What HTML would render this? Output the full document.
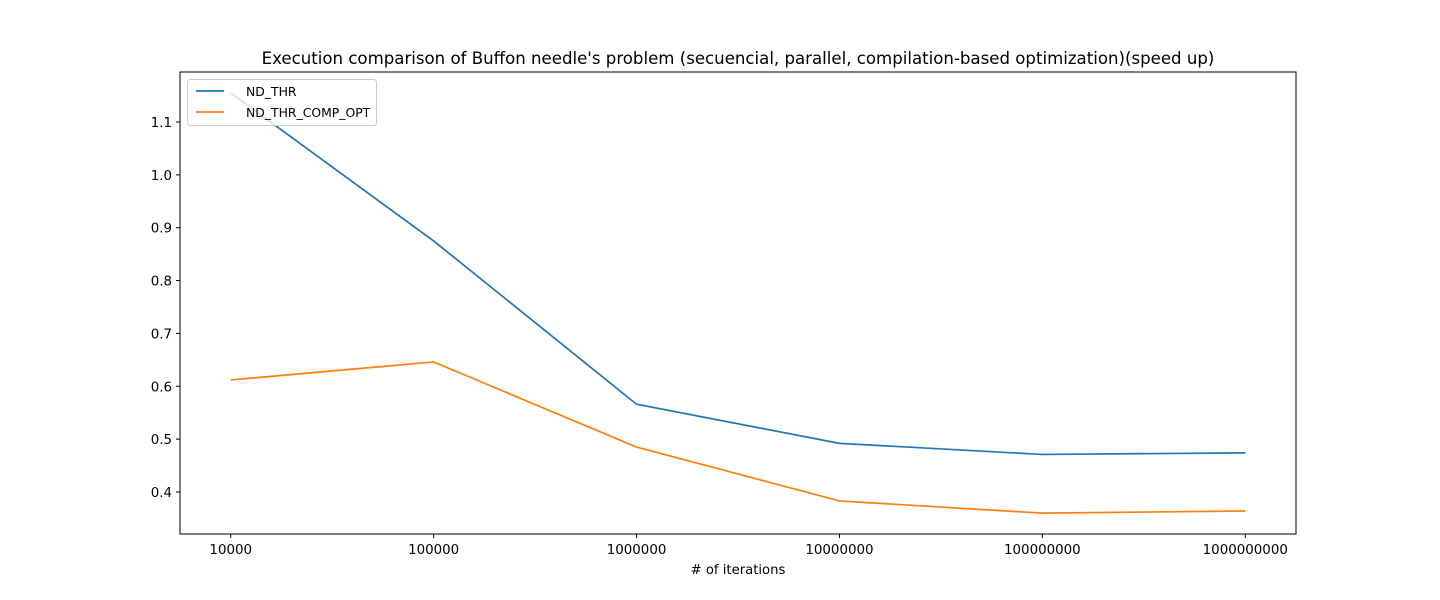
<!DOCTYPE html>
<html><head><meta charset="utf-8"><style>
body{margin:0;background:#fff}
svg{display:block;font-family:"DejaVu Sans","Liberation Sans",sans-serif}
</style></head><body>
<svg id="c" width="1440" height="600">
<rect width="1440" height="600" fill="#fff"/>
<text x="738" y="64" text-anchor="middle" font-size="16.6">Execution comparison of Buffon needle's problem (secuencial, parallel, compilation-based optimization)(speed up)</text>
<text x="738" y="574" text-anchor="middle" font-size="13.2"># of iterations</text>
<g id="ticks"></g>
<g id="lines"></g>
<rect x="180" y="72" width="1116" height="462" fill="none" stroke="#000" stroke-width="1"/>
<g>
<rect x="187.5" y="79.5" width="189" height="46" rx="3" fill="#fff" fill-opacity="0.8" stroke="#ccc"/>
<line x1="196" y1="91" x2="224" y2="91" stroke="#1f77b4" stroke-width="1.7"/>
<text x="246" y="96" font-size="12.4">ND_THR</text>
<line x1="196" y1="112" x2="224" y2="112" stroke="#ff7f0e" stroke-width="1.7"/>
<text x="246" y="117" font-size="12.4">ND_THR_COMP_OPT</text>
</g>
</svg>
<script>
const categories=["10000","100000","1000000","10000000","100000000","1000000000"];
const ndThr=[1.155,0.875,0.566,0.492,0.471,0.474];
const ndThrCompOpt=[0.612,0.646,0.485,0.383,0.360,0.364];
const yTicks=[0.4,0.5,0.6,0.7,0.8,0.9,1.0,1.1];
const NS="http://www.w3.org/2000/svg";
const L=180,R=1296,T=72,B=534;
const xMin=-0.25,xMax=categories.length-0.75;
const yMin=0.3205,yMax=1.1946;
const xs=i=>L+(i-xMin)/(xMax-xMin)*(R-L);
const ys=v=>B-(v-yMin)/(yMax-yMin)*(B-T);
const tg=document.getElementById('ticks'),lg=document.getElementById('lines');
function mk(t,a,p){const e=document.createElementNS(NS,t);for(const k in a)e.setAttribute(k,a[k]);p.appendChild(e);return e;}
categories.forEach((c,i)=>{
 const x=xs(i);
 const l=mk('line',{x1:x,x2:x,y1:B,y2:B+4,stroke:'#000'},tg);
 
 
 const t=mk('text',{x:x,y:B+20,'text-anchor':'middle','font-size':13.4},tg);
 t.textContent=c;
 
 
});
yTicks.forEach(v=>{
 const y=ys(v);
 const l=mk('line',{x1:L-4,x2:L,y1:y,y2:y,stroke:'#000'},tg);
 
 
 const t=mk('text',{x:L-8,y:y+5,'text-anchor':'end','font-size':13.4},tg);
 t.textContent=v.toFixed(1);
 
 
});
function series(vals,color,name){
 const p=mk('polyline',{points:vals.map((v,i)=>xs(i)+','+ys(v)).join(' '),fill:'none',stroke:color,'stroke-width':1.7},lg);
 
 
}
series(ndThr,'#1f77b4','nd-thr-line');
series(ndThrCompOpt,'#ff7f0e','nd-thr-comp-opt-line');
</script>
</body></html>
